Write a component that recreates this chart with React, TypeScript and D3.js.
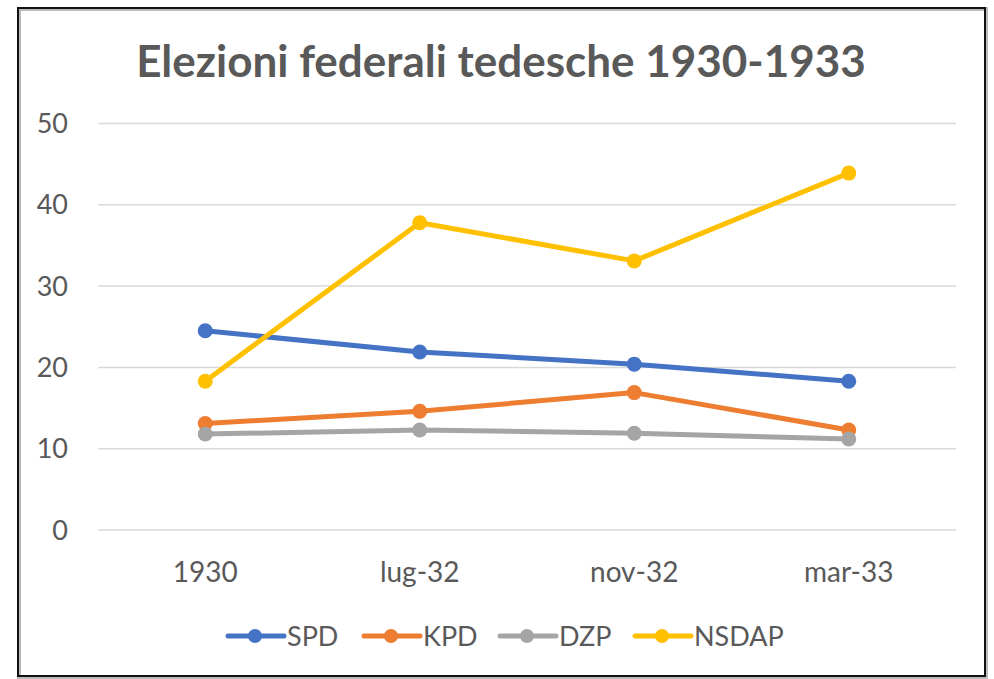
import React from "react";
import * as d3 from "d3";

const categories = ["1930", "lug-32", "nov-32", "mar-33"];
const seriesNames = ["SPD", "KPD", "DZP", "NSDAP"];
const spd = [24.5, 21.9, 20.4, 18.3];
const kpd = [13.1, 14.6, 16.9, 12.3];
const dzp = [11.8, 12.3, 11.9, 11.2];
const nsdap = [18.3, 37.8, 33.1, 43.9];
const yTicks = [0, 10, 20, 30, 40, 50];
const colors = ["#4472C4", "#ED7D31", "#A5A5A5", "#FFC000"];

const W = 994;
const H = 679;
const FONT = "Lato, 'Open Sans', sans-serif";

export default function App() {
  const series = [spd, kpd, dzp, nsdap];
  const x = d3.scalePoint<string>().domain(categories).range([98, 956]).padding(0.5);
  const y = d3.scaleLinear().domain([0, 50]).range([530, 123.5]);
  const line = d3
    .line<number>()
    .x((_, i) => x(categories[i]) as number)
    .y((d) => y(d));

  const legendX = [228, 364, 500, 635];

  return (
    <svg
      width={W}
      height={H}
      style={{ position: "absolute", left: 0, top: 0, background: "#fff" }}
    >
      <rect x={0} y={0} width={W} height={H} fill="#fff" />
      <rect x={19} y={9} width={967} height={668} fill="none" stroke="#bbb" strokeWidth={4} />
      <rect x={18} y={8} width={967} height={668} fill="none" stroke="#111" strokeWidth={2} />
      <text
        x={501}
        y={77}
        textAnchor="middle"
        fontFamily={FONT}
        fontWeight={700}
        fontSize={44}
        fill="#595959"
      >
        Elezioni federali tedesche 1930-1933
      </text>
      {yTicks.map((t) => (
        <g key={t}>
          <line x1={98} x2={956} y1={y(t)} y2={y(t)} stroke="#D9D9D9" strokeWidth={1.5} />
          <text
            x={68}
            y={y(t) + 9.5}
            textAnchor="end"
            fontFamily={FONT}
            fontSize={27}
            fill="#595959"
          >
            {t}
          </text>
        </g>
      ))}
      {categories.map((c) => (
        <text
          key={c}
          x={x(c) as number}
          y={582}
          textAnchor="middle"
          fontFamily={FONT}
          fontSize={28}
          fill="#595959"
        >
          {c}
        </text>
      ))}
      {series.map((s, si) => (
        <g key={seriesNames[si]}>
          <path
            d={line(s) || ""}
            fill="none"
            stroke={colors[si]}
            strokeWidth={5}
            strokeLinejoin="round"
            strokeLinecap="round"
          />
          {s.map((v, i) => (
            <circle key={i} cx={x(categories[i]) as number} cy={y(v)} r={7.5} fill={colors[si]} />
          ))}
        </g>
      ))}
      {seriesNames.map((n, i) => (
        <g key={n} transform={`translate(${legendX[i]},636)`}>
          <line x1={0} x2={56} y1={0} y2={0} stroke={colors[i]} strokeWidth={5} strokeLinecap="round" />
          <circle cx={27} cy={0} r={7} fill={colors[i]} />
          <text x={59} y={9.5} fontFamily={FONT} fontSize={27} fill="#595959">
            {n}
          </text>
        </g>
      ))}
    </svg>
  );
}
